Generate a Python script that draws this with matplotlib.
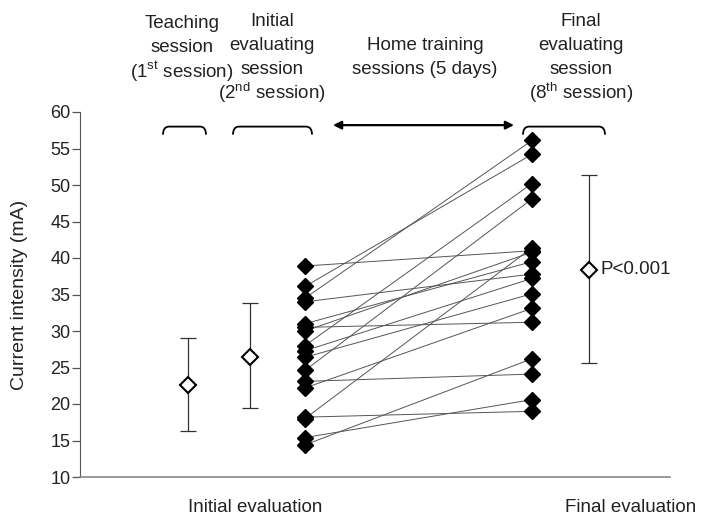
import numpy as np
import matplotlib.pyplot as plt
from matplotlib.path import Path
from matplotlib.patches import PathPatch

# paired individual values (mA), initial -> final evaluating session
initial_vals = [38.9, 36.1, 34.5, 34.0, 31.0, 30.5, 30.0, 28.0, 27.3,
                26.4, 24.6, 23.1, 22.2, 18.2, 18.0, 15.4, 14.4]
final_vals = [41.0, 54.2, 56.1, 37.8, 39.5, 31.2, 40.8, 50.2, 37.2,
              35.1, 48.1, 24.1, 33.1, 19.0, 41.4, 20.6, 26.2]

# summary (mean, lower, upper) per session
summary_names = ["teaching", "initial", "final"]
summary_mean = [22.6, 26.4, 38.4]
summary_low = [16.3, 19.4, 25.6]
summary_high = [29.1, 33.8, 51.4]

# horizontal positions on the axis
x_summary = [108, 170, 509]
x_initial = 225
x_final = 452

yticks = [10, 15, 20, 25, 30, 35, 40, 45, 50, 55, 60]

plt.rcParams['font.family'] = ['Liberation Sans', 'DejaVu Sans']
plt.rcParams['mathtext.fontset'] = 'custom'
plt.rcParams['mathtext.rm'] = 'Liberation Sans'
txt = '#222222'
W, H = 702, 517

fig = plt.figure(figsize=(7.02, 5.17), dpi=100)
ax = fig.add_axes([80/W, 40/H, 590/W, 365/H])
ax.set_xlim(0, 590)
ax.set_ylim(10, 60)

# paired lines and filled diamonds
for a, b in zip(initial_vals, final_vals):
    ax.plot([x_initial, x_final], [a, b], color='#555555', lw=0.7, zorder=2)
ax.plot([x_initial]*len(initial_vals), initial_vals, 'D', color='black', ms=8.5, zorder=3)
ax.plot([x_final]*len(final_vals), final_vals, 'D', color='black', ms=8.5, zorder=3)

# mean with range
for xs, m, lo, hi in zip(x_summary, summary_mean, summary_low, summary_high):
    ax.errorbar(xs, m, yerr=[[m - lo], [hi - m]], fmt='none', ecolor='#333333',
                elinewidth=0.9, capsize=6, capthick=0.9, zorder=2)
    ax.plot(xs, m, 'D', ms=8, mfc='white', mec='black', mew=1.5, zorder=4)

ax.text(521, 38.4, "P<0.001", fontsize=13.5, color=txt, va='center', ha='left')

# axes styling
for s in ['top', 'right']:
    ax.spines[s].set_visible(False)
ax.spines['left'].set_color('#555555')
ax.spines['bottom'].set_color('#888888')
ax.spines['bottom'].set_linewidth(1.2)
ax.set_xticks([])
ax.set_yticks(yticks)
ax.tick_params(axis='y', length=6, width=0.9, color='#555555', pad=1,
               labelsize=13, labelcolor=txt)
ax.set_ylabel("Current intensity (mA)", fontsize=14, color=txt)
ax.yaxis.set_label_coords(-52/590, 0.5)

ax.text(175, 5.8, "Initial evaluation", fontsize=13.5, color=txt, ha='center',
        va='center', clip_on=False)
ax.text(551, 5.8, "Final evaluation", fontsize=13.5, color=txt, ha='center',
        va='center', clip_on=False)

# session labels above the plot: (x centre px, first line y px, lines)
headers = [
    (182, 24, ["Teaching", "session", "(1$^{\\mathrm{st}}$ session)"]),
    (272, 21, ["Initial", "evaluating", "session", "(2$^{\\mathrm{nd}}$ session)"]),
    (425, 45, ["Home training", "sessions (5 days)"]),
    (581, 21, ["Final", "evaluating", "session", "(8$^{\\mathrm{th}}$ session)"]),
]
for hx, hy, lines in headers:
    for i, line in enumerate(lines):
        fig.text(hx / W, 1 - (hy + 24 * i) / H, line, fontsize=13.5, color=txt,
                 ha='center', va='center')


def bracket(x0, x1, y_top=58.0, y_low=56.9, r=6):
    verts = [(x0, y_low), (x0, y_top), (x0 + r, y_top),
             (x1 - r, y_top), (x1, y_top), (x1, y_low)]
    codes = [Path.MOVETO, Path.CURVE3, Path.CURVE3,
             Path.LINETO, Path.CURVE3, Path.CURVE3]
    ax.add_patch(PathPatch(Path(verts, codes), fill=False, lw=1.3,
                           edgecolor='black', clip_on=False))


bracket(83, 126)
bracket(153, 232)
bracket(443, 525)
ax.annotate("", xy=(434, 58.2), xytext=(253, 58.2),
            arrowprops=dict(arrowstyle='<|-|>', color='black', lw=1.6,
                            mutation_scale=12, shrinkA=0, shrinkB=0),
            annotation_clip=False)

fig.savefig("out.png", dpi=100)
plt.close()
